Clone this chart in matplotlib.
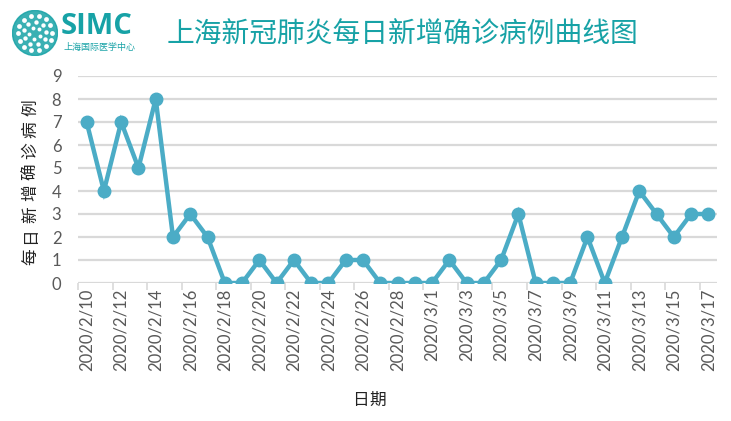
import numpy as np
import matplotlib
matplotlib.use("Agg")
import matplotlib.pyplot as plt
from matplotlib.patches import Circle

plt.rcParams['font.family'] = ['Lato', 'Noto Sans CJK SC', 'DejaVu Sans']

# data
start_month_days = [("2", d) for d in range(10, 30)] + [("3", d) for d in range(1, 18)]
dates = ["2020/%s/%d" % (m, d) for m, d in start_month_days]
cases = [7, 4, 7, 5, 8, 2, 3, 2, 0, 0, 1, 0, 1, 0, 0, 1, 1, 0, 0, 0,
         0, 1, 0, 0, 1, 3, 0, 0, 0, 2, 0, 2, 4, 3, 2, 3, 3]
yticks = list(range(0, 10))

title = "上海新冠肺炎每日新增确诊病例曲线图"
ylabel = "每日新增确诊病例"
xlabel = "日期"

line_col = "#4bacc6"
teal = "#17a2a6"
grid_col = "#d9d9d9"
text_col = "#595959"

fig = plt.figure(figsize=(7.31, 4.21), dpi=100)
ax = fig.add_axes([78 / 731, 1 - 283 / 421, (717 - 78) / 731, (283 - 76) / 421])

x = np.arange(len(cases))
ax.plot(x, cases, color=line_col, lw=3.2, marker='o', ms=9, zorder=3,
        solid_joinstyle='miter')

ax.set_ylim(0, 9)
ax.set_xlim(-0.5, len(cases) - 0.5)
ax.set_yticks(yticks)
ax.set_yticklabels([str(v) for v in yticks], color=text_col, fontsize=12)
ax.tick_params(axis='y', length=0, pad=12)
for v in yticks:
    ax.axhline(v, color=grid_col, lw=1.6, zorder=1)

# category ticks between points, labels on every other date
ax.set_xticks(np.arange(-0.5, len(cases) - 0.5, 2))
ax.set_xticklabels([])
ax.set_xticks(x[::2], minor=True)
ax.set_xticklabels(dates[::2], minor=True, rotation=90, color=text_col, fontsize=12)
ax.tick_params(axis='x', which='major', length=5, width=1.2, color=grid_col)
ax.tick_params(axis='x', which='minor', length=0, pad=4)

for s in ax.spines.values():
    s.set_visible(False)

# y label with wide letter spacing, one char at a time (bottom to top)
ys = np.linspace(1 - 257 / 421, 1 - 108 / 421, len(ylabel))
for ch, yy in zip(ylabel, ys):
    fig.text(31 / 731, yy, ch, rotation=90, ha='center', va='center', fontsize=12,
             color='#222222', family=['Noto Sans CJK SC'])
fig.text(360 / 731, 1 - 400 / 421, xlabel[0], ha='center', va='center', fontsize=12,
         color='#222222', family=['Noto Sans CJK SC'])
fig.text(378 / 731, 1 - 400 / 421, xlabel[1], ha='center', va='center', fontsize=12,
         color='#222222', family=['Noto Sans CJK SC'])

# header
fig.text(402 / 731, 1 - 35 / 421, title, ha='center', va='center', fontsize=20,
         color=teal, family=['Noto Sans CJK SC'])
fig.text(61 / 731, 1 - 27 / 421, "SIMC", ha='left', va='center', fontsize=21,
         fontweight='bold', color=teal, family=['Open Sans'])
fig.text(100 / 731, 1 - 47 / 421, "上海国际医学中心", ha='center', va='center', fontsize=6.5,
         color=teal, family=['Noto Sans CJK SC'])

# logo disc
lax = fig.add_axes([12 / 731, 1 - 56 / 421, 46 / 731, 46 / 421])
lax.set_xlim(-1, 1)
lax.set_ylim(-1, 1)
lax.set_aspect('equal')
lax.axis('off')
lax.add_patch(Circle((0, 0), 0.98, color=teal, alpha=0.85))
for r, n in [(0.25, 5), (0.5, 9), (0.75, 14)]:
    t = np.linspace(0, 2 * np.pi, n, endpoint=False) + r * 3
    lax.scatter(r * np.cos(t), r * np.sin(t), s=6 + 8 * r, color='white', lw=0)

fig.savefig("out.png", dpi=100, facecolor='white')
